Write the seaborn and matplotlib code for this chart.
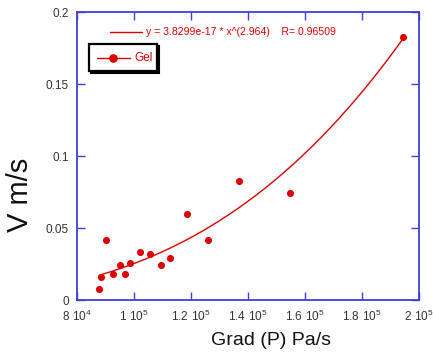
import numpy as np
import pandas as pd
import matplotlib
matplotlib.use("Agg")
import matplotlib.pyplot as plt
import seaborn as sns
from matplotlib.patches import Rectangle

# ---- data ----
grad_p = [87700, 88300, 90300, 92750, 95100, 96700, 98700, 102100, 105700,
          109400, 112750, 118700, 126100, 136950, 154750, 194400]
velocity = [0.0078, 0.0157, 0.0414, 0.0178, 0.0241, 0.0178, 0.0255, 0.0336, 0.0322,
            0.0241, 0.0290, 0.0597, 0.0414, 0.0826, 0.0741, 0.1823]
fit_a = 3.8299e-17
fit_b = 2.964
fit_r = 0.96509
x_ticks = [80000, 100000, 120000, 140000, 160000, 180000, 200000]
x_tick_labels = [r'$\mathregular{8\ 10^{4}}$', r'$\mathregular{1\ 10^{5}}$',
                 r'$\mathregular{1.2\ 10^{5}}$', r'$\mathregular{1.4\ 10^{5}}$',
                 r'$\mathregular{1.6\ 10^{5}}$', r'$\mathregular{1.8\ 10^{5}}$',
                 r'$\mathregular{2\ 10^{5}}$']
y_ticks = [0, 0.05, 0.1, 0.15, 0.2]
y_tick_labels = ['0', '0.05', '0.1', '0.15', '0.2']

sns.set_theme(style="white")
plt.rcParams['font.family'] = ['Liberation Sans', 'DejaVu Sans']
plt.rcParams['mathtext.fontset'] = 'custom'
plt.rcParams['mathtext.rm'] = 'Liberation Sans'

RED = '#dd0000'
BLUE = '#4040d8'

df = pd.DataFrame({'grad': grad_p, 'v': velocity})
xf = np.linspace(min(grad_p), max(grad_p), 200)
fit_df = pd.DataFrame({'grad': xf, 'v': fit_a * xf ** fit_b})

fig = plt.figure(figsize=(4.33, 3.54), dpi=100)
ax = fig.add_axes([0.1778, 0.1525, 0.7899, 0.8136])

sns.lineplot(data=fit_df, x='grad', y='v', ax=ax, color=RED, linewidth=1.0)
sns.scatterplot(data=df, x='grad', y='v', ax=ax, color=RED, s=26,
                edgecolor=RED, linewidth=0, zorder=3)

ax.set_xlim(80000, 200000)
ax.set_ylim(0, 0.2)
ax.set_xticks(x_ticks)
ax.set_xticklabels(x_tick_labels, fontsize=8.5)
ax.set_yticks(y_ticks)
ax.set_yticklabels(y_tick_labels, fontsize=8.5)
ax.tick_params(direction='in', length=6, width=1, color=BLUE,
               top=True, right=True, bottom=True, left=True, pad=6,
               labelcolor='#333333')
for s in ax.spines.values():
    s.set_color(BLUE)
    s.set_linewidth(1.3)

ax.set_xlabel('Grad (P) Pa/s', fontsize=14, color='#111111', va='center')
ax.xaxis.set_label_coords(0.567, -0.139)
ax.set_ylabel('V m/s', fontsize=21, color='#111111', va='center')
ax.yaxis.set_label_coords(-0.167, 0.365)

# fit legend line
ax.plot([0.096, 0.19], [0.929, 0.929], transform=ax.transAxes, color=RED, lw=1)
ax.text(0.201, 0.929, f'y = {fit_a:.4e} * x^({fit_b})    R= {fit_r}',
        transform=ax.transAxes, color=RED, fontsize=7.6, va='center', ha='left')

# boxed legend with shadow
ax.add_patch(Rectangle((0.041, 0.788), 0.2, 0.094, transform=ax.transAxes,
                       facecolor='black', edgecolor='black', lw=1.5, zorder=4))
ax.add_patch(Rectangle((0.035, 0.795), 0.2, 0.094, transform=ax.transAxes,
                       facecolor='white', edgecolor='black', lw=1.6, zorder=5))
ax.plot([0.058, 0.155], [0.842, 0.842], transform=ax.transAxes, color=RED, lw=1, zorder=6)
ax.plot([0.105], [0.842], transform=ax.transAxes, marker='o', ms=5.2, color=RED, zorder=7)
ax.text(0.167, 0.842, 'Gel', transform=ax.transAxes, color=RED, fontsize=8.5,
        va='center', ha='left', zorder=7)

fig.savefig('out.png', dpi=100)
